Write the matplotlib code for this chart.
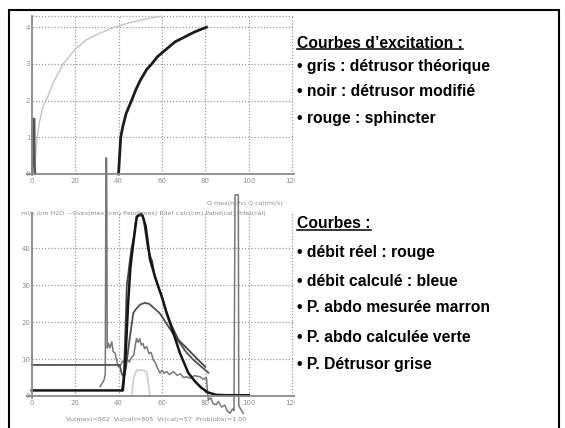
import numpy as np
import matplotlib
matplotlib.use("Agg")
import matplotlib.pyplot as plt
from matplotlib.patches import Rectangle
from matplotlib.lines import Line2D

# ---- data ----
# top chart: excitation curves
theo_x = [1.5, 2, 2.5, 3.5, 5, 7, 10, 14.5, 20, 25, 30, 38, 45, 52, 60]
theo_y = [0.2, 0.7, 1.0, 1.4, 1.8, 2.05, 2.5, 3.0, 3.4, 3.65, 3.8, 4.0, 4.12, 4.22, 4.3]
mod_x = [40, 40.5, 41, 42, 43.5, 46, 48, 50, 53, 55.3, 58, 62, 66, 70, 75, 80.5]
mod_y = [0, 0.5, 1.0, 1.3, 1.65, 2.0, 2.3, 2.55, 2.85, 3.0, 3.2, 3.4, 3.6, 3.72, 3.87, 4.0]
sph_x = [0.3, 0.3, 1.2, 1.3, 1.6]
sph_y = [0, 1.5, 1.5, 0.3, 0]

# bottom chart: flows and pressures
qcal_x = [0, 42, 43, 44.5, 45.5, 46.8, 48.4, 49.5, 51, 52.5, 54.5, 56.8, 59.9, 62.2,
          65.3, 68.3, 72.2, 75.3, 78, 81, 85, 90, 100]
qcal_y = [1.5, 1.5, 8, 26, 35, 41.4, 48.6, 49, 49, 46, 37, 32.3, 26.9, 22.4,
          17, 11.6, 6.2, 3.9, 2.3, 1.0, 0.3, 0.2, 0.2]
qmes_x = [41.5, 42.5, 43.3, 43.8, 44.5, 45.3, 46, 47, 48, 49, 50.5, 51.5, 52.5, 53.5,
          54.5, 55.5, 56.5, 58, 60, 62, 64.5, 67.6, 70.5, 73.7, 77, 80]
qmes_y = [1.5, 6, 20, 30, 33, 37, 40, 43, 47.5, 49, 49.5, 48, 44, 40,
          38, 36.5, 33, 30, 27, 23, 19, 15.2, 13.5, 11.6, 9.6, 7.9]
pabd_x = [31.5, 32.5, 33.3, 33.9, 34.2, 34.5, 34.8, 35.3, 36, 36.9, 37.5, 38.4, 39.2, 39.9,
          41, 42, 43, 44, 45, 46, 47, 47.8, 48.3, 49, 49.8, 50.5, 51.3, 52, 53, 54, 55, 56,
          57, 58, 59.1, 60, 61, 62.2, 63.5, 65.3, 67, 68.5, 70, 71.4, 73, 75, 77.6, 79,
          80.5, 81, 81.4, 82.5, 83.5, 85, 86, 87.5, 89, 90, 91.4, 92.5, 93.2, 93.7, 95.2,
          95.4, 96.2, 97.5]
pabd_y = [2.5, 3.5, 4.3, 6, 64.5, 64.5, 13, 14.3, 13, 14.7, 12, 11.6, 9.5, 7.9,
          8.5, 9.5, 8.8, 10, 9.2, 10.5, 11, 14, 15.6, 14.5, 15.5, 13.8, 14.2, 12.8, 13.4, 11.5, 11.8, 9.8,
          9, 7.5, 6.2, 7, 6.2, 6.6, 5.8, 6.6, 5.6, 6, 5, 5.2, 4.8, 5.5, 5.2, 4.5,
          5, 1, -1.1, -0.5, -2, -2.4, -1.5, -3, -2.5, -4, -4.7, -3.5, -4, 54.5, 54.5,
          -2.5, -3.5, -4.7]
pcal_x = [0, 40.5, 41.5, 42.5, 43.5, 45, 46.8, 48, 50, 52, 54, 56, 59, 62, 65, 68.3,
          71, 74.5, 78, 81.4]
pcal_y = [8.4, 8.4, 6, 5, 8, 15, 22.5, 23.5, 24.8, 25.2, 25, 24, 22.4, 19.7, 17, 14.3,
          12, 9.8, 8, 6.3]
pdet_x = [46, 47, 48.4, 51, 53, 54.5]
pdet_y = [0, 5, 7, 7, 6.5, 0]

top_yticks = [0, 1, 2, 3, 4]
bot_yticks = [0, 10, 20, 30, 40]
xticks = [0, 20, 40, 60, 80, 100, 120]

W, H = 565, 428
fig = plt.figure(figsize=(W / 100, H / 100), dpi=100)


def px_axes(x0, y0, x1, y1):
    return fig.add_axes([x0 / W, 1 - y1 / H, (x1 - x0) / W, (y1 - y0) / H])


def setup(ax, ylo, yhi, ytop, yticks, hgrid):
    ax.set_xlim(-2, 121)
    ax.set_ylim(ylo, yhi)
    ax.patch.set_visible(False)
    for s in ["top", "right"]:
        ax.spines[s].set_visible(False)
    ax.spines["left"].set_position(("data", 0))
    ax.spines["bottom"].set_position(("data", 0))
    ax.spines["left"].set_bounds(ylo * 0.1, ytop)
    ax.spines["bottom"].set_bounds(-2, 121)
    for s in ["left", "bottom"]:
        ax.spines[s].set_color("#8a8a8a")
        ax.spines[s].set_linewidth(1.3)
    ax.set_xticks(xticks)
    ax.set_yticks(yticks)
    ax.tick_params(length=0, labelsize=5, labelcolor="#8f8f8f")
    ax.tick_params(axis="x", pad=3)
    ax.tick_params(axis="y", pad=1)
    grid = dict(color="#9a9a9a", lw=0.9, linestyle=(0, (1, 1.5)), zorder=0)
    ax.vlines(xticks[1:], 0, ytop, **grid)
    ax.hlines(hgrid, 0, 121, **grid)


# top chart
ax1 = px_axes(27.4, 10.7, 294.3, 181.3)
setup(ax1, -0.2, 4.45, 4.3, top_yticks, [1, 2, 3, 4, 4.3])
ax1.plot(theo_x, theo_y, color="#c4c4c4", lw=1.0)
ax1.plot(mod_x, mod_y, color="#1c1c1c", lw=2.0)
ax1.plot(sph_x, sph_y, color="#555555", lw=1.6)

# bottom chart
ax2 = px_axes(27.4, 193, 294.3, 418.1)
setup(ax2, -6, 55, 49.6, bot_yticks, [10, 20, 30, 40])
ax2.plot(pdet_x, pdet_y, color="#cdcdcd", lw=1.2)
ax2.plot(pabd_x, pabd_y, color="#777777", lw=1.1, clip_on=False)
ax2.plot(pcal_x, pcal_y, color="#505050", lw=1.3)
ax2.plot(qmes_x, qmes_y, color="#454545", lw=1.3)
ax2.plot(qcal_x, qcal_y, color="#151515", lw=1.8)

small = dict(fontsize=4.6, color="#8a8a8a", family="DejaVu Sans")
fig.text(21 / W, 1 - 213 / H, "ml/s /cm H2O ---Pves(mes)(cm) Pabd(mes) Pdet calc(cm) Pabd(cal) Pdet(cal)",
         va="center", **small)
fig.text(207 / W, 1 - 204 / H, "Q mes(ml/s) Q cal(ml/s)", va="center", **small)
fig.text(66 / W, 1 - 419 / H, "Vu(mes)=862  Vu(cal)=805  Vr(cal)=57  Prob(obs)=1.00", va="center", **small)

# white text panel and outer frame
fig.patches.append(Rectangle((295 / W, 0), 263 / W, 1 - 11 / H, transform=fig.transFigure,
                             facecolor="white", edgecolor="none", zorder=5))
fig.patches.append(Rectangle((9 / W, -20 / H), 550 / W, 1 - 10 / H + 20 / H, transform=fig.transFigure,
                             facecolor="none", edgecolor="black", lw=1.5, zorder=10))

bold = dict(fontsize=11.3, fontweight="bold", family=["Liberation Sans", "DejaVu Sans"],
            color="black", va="center", zorder=6)
titles = [("Courbes d\u2019excitation :", 43), ("Courbes :", 224)]
items = [("\u2022 gris : détrusor théorique", 67),
         ("\u2022 noir : détrusor modifié", 91),
         ("\u2022 rouge : sphincter", 119),
         ("\u2022 débit réel : rouge", 253),
         ("\u2022 débit calculé : bleue", 281),
         ("\u2022 P. abdo mesurée marron", 308),
         ("\u2022 P. abdo calculée verte", 337),
         ("\u2022 P. Détrusor grise", 365)]
title_texts = [fig.text(297 / W, 1 - y / H, s, **bold) for s, y in titles]
for s, y in items:
    fig.text(297 / W, 1 - y / H, s, **bold)

# underline the two titles
fig.canvas.draw()
r = fig.canvas.get_renderer()
for t in title_texts:
    bb = t.get_window_extent(r)
    yb = bb.y0 + 1.5
    fig.add_artist(Line2D([bb.x0 / W, bb.x1 / W], [yb / H, yb / H], transform=fig.transFigure,
                          color="black", lw=1.1, zorder=6))

fig.savefig("out.png", dpi=100)
